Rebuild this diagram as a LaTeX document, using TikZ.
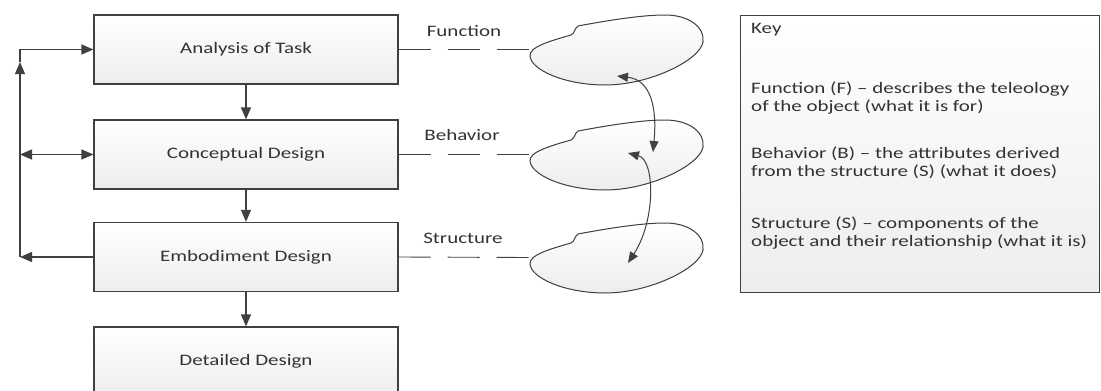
\documentclass[tikz,border=0pt]{standalone}
\usepackage{fontspec}
\setmainfont{Carlito}[FakeStretch=1.31]
\usetikzlibrary{arrows.meta}

\definecolor{linegray}{HTML}{404040}
\definecolor{textgray}{HTML}{333333}

\tikzset{
  stage/.style={draw=linegray, line width=1.2pt, top color=white, bottom color=gray!14,
    minimum width=304pt, minimum height=69pt, text=textgray},
  arr/.style={-{Triangle[length=12pt,width=10pt]}, line width=1.2pt, draw=linegray},
  twoway/.style={{Triangle[length=12pt,width=10pt]}-{Triangle[length=12pt,width=10pt]}, line width=1.2pt, draw=linegray},
  dblarr/.style={{Triangle[length=11pt,width=9pt]}-{Triangle[length=11pt,width=9pt]}, line width=1pt, draw=linegray},
  link/.style={draw=linegray, line width=0.9pt, dash pattern=on 32pt off 17pt},
  blob/.style={draw=linegray, line width=1pt, top color=white, bottom color=gray!14},
  lbl/.style={text=textgray, inner sep=0pt},
  keytxt/.style={text=textgray, inner sep=0pt, anchor=west, align=left}
}

\begin{document}
\begin{tikzpicture}[x=1pt,y=-1pt, every node/.style={font=\fontsize{16pt}{18pt}\selectfont}]
\useasboundingbox (0,0) rectangle (1101,391);
% Phases
\node[stage] (ana) at (246,49.5) {Analysis of Task};
\node[stage] (con) at (246,154.5) {Conceptual Design};
\node[stage] (emb) at (246,257) {Embodiment Design};
\node[stage] (det) at (246,361.5) {Detailed Design};
\draw[arr] (ana) -- (con);
\draw[arr] (con) -- (emb);
\draw[arr] (emb) -- (det);
% Feedback loop
\coordinate (loopbot) at (20,257);
\coordinate (loopmid) at (20,62);
\draw[arr] (emb.west) -- (loopbot);
\draw[arr] (loopbot) -- (loopmid);
\draw[arr] (loopmid) |- (ana.west);
\draw[twoway] (con.west -| loopbot) -- (con.west);
% F-B-S blobs
\foreach \dy/\nm in {0/fun,105/beh,208/str}{
  \begin{scope}[shift={(0,\dy)}]
    \filldraw[blob] (530,56) .. controls (529,47) and (550,41) .. (571,35)
      .. controls (575,33) and (574,29) .. (578,26)
      .. controls (605,21) and (640,15) .. (665,15)
      .. controls (690,15) and (705,28) .. (703,42)
      .. controls (700,60) and (650,85) .. (605,85)
      .. controls (565,85) and (531,70) .. (530,56) -- cycle;
    \coordinate (\nm) at (530.5,49.5);
  \end{scope}
}
\draw[link] (ana.east) -- (fun);
\draw[link] (con.east) -- (beh);
\draw[link] (emb.east) -- (str);
\node[lbl] (flab) at (464,31) {Function};
\node[lbl] (blab) at (462,135) {Behavior};
\node[lbl] (slab) at (463,238) {Structure};
% Links between blobs
\coordinate (ftip) at (617,76);
\coordinate (btip) at (653,152);
\coordinate (btop) at (628,153);
\coordinate (stip) at (628,263);
\draw[dblarr] (ftip) .. controls (652,80) and (657,110) .. (btip);
\draw[dblarr] (btop) .. controls (655,160) and (656,220) .. (stip);
% Key
\node[blob, line width=1.2pt, anchor=north west, minimum width=359pt, minimum height=277pt] (key) at (740,15) {};
\node[keytxt] (kt) at (751,30) {Key};
\node[keytxt] (kf) at (751,98.5) {Function (F) -- describes the teleology\\of the object (what it is for)};
\node[keytxt] (kb) at (751,162.5) {Behavior (B) -- the attributes derived\\from the structure (S) (what it does)};
\node[keytxt] (ks) at (751,233.5) {Structure (S) -- components of the\\object and their relationship (what it is)};
\end{tikzpicture}
\end{document}
